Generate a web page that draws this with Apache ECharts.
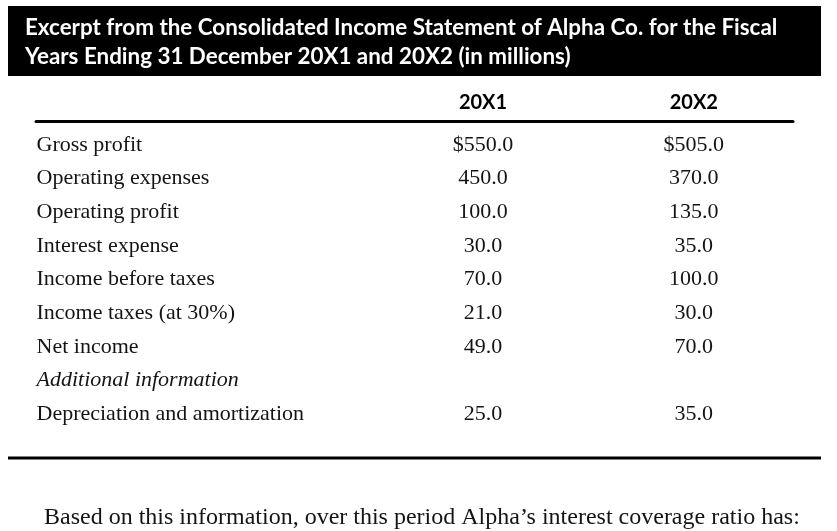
<!DOCTYPE html>
<html>
<head>
<meta charset="utf-8">
<script src="https://cdn.jsdelivr.net/npm/echarts@6/dist/echarts.min.js"></script>
<style>
  html, body { margin: 0; padding: 0; background: #fff; }
  #chart { width: 837px; height: 531px; }
</style>
</head>
<body>
<div id="chart"></div>
<script>
// table content
const headerTitle = 'Excerpt from the Consolidated Income Statement of Alpha Co. for the Fiscal\nYears Ending 31 December 20X1 and 20X2 (in millions)';
const columnHeaders = ['20X1', '20X2'];
const rowLabels = [
  'Gross profit',
  'Operating expenses',
  'Operating profit',
  'Interest expense',
  'Income before taxes',
  'Income taxes (at 30%)',
  'Net income',
  'Additional information',
  'Depreciation and amortization'
];
const values20X1 = [550.0, 450.0, 100.0, 30.0, 70.0, 21.0, 49.0, null, 25.0];
const values20X2 = [505.0, 370.0, 135.0, 35.0, 100.0, 30.0, 70.0, null, 35.0];
const italicRows = ['Additional information'];
const dollarRows = ['Gross profit'];
const question = 'Based on this information, over this period Alpha\u2019s interest coverage ratio has:';

// column positions on the hidden 0..100 x axis
const colX = [59.05, 86.9];

const serif = '"Liberation Serif", "DejaVu Serif", serif';
const sans = 'Lato, "Open Sans", sans-serif';
const ink = '#141414';

let chart = echarts.init(document.getElementById('chart'));

const labelData = rowLabels.map((name, i) => ({
  value: [0, i],
  label: { fontStyle: italicRows.indexOf(name) >= 0 ? 'italic' : 'normal' }
}));

function valueSeries(values, x) {
  let data = [];
  values.forEach((v, i) => {
    if (v === null) return;
    data.push({ value: [x, i, v], name: rowLabels[i] });
  });
  return {
    type: 'scatter',
    symbolSize: 1,
    itemStyle: { color: 'rgba(0,0,0,0)', opacity: 1 },
    data: data,
    label: {
      show: true,
      position: 'inside',
      color: ink,
      fontFamily: serif,
      fontSize: 22,
      formatter: (p) => (dollarRows.indexOf(p.name) >= 0 ? '$' : '') + p.value[2].toFixed(1)
    }
  };
}

chart.setOption({
  animation: false,
  backgroundColor: '#fff',
  title: [
    {
      text: headerTitle,
      left: 20,
      top: 8,
      textStyle: {
        color: '#fff',
        fontFamily: sans,
        fontWeight: 'bold',
        fontSize: 22.4,
        lineHeight: 29
      }
    },
    {
      text: question,
      left: 39,
      top: 501,
      textStyle: {
        color: ink,
        fontFamily: serif,
        fontWeight: 'normal',
        fontSize: 24
      }
    }
  ],
  graphic: [
    {
      type: 'rect',
      z: -1,
      shape: { x: 8, y: 6, width: 813, height: 70 },
      style: { fill: '#000' }
    },
    {
      type: 'line',
      shape: { x1: 8, y1: 458, x2: 821, y2: 458 },
      style: { stroke: '#000', lineWidth: 3 }
    }
  ],
  grid: { left: 36, right: 44, top: 121, bottom: 73 },
  xAxis: {
    type: 'value',
    position: 'top',
    min: 0,
    max: 100,
    axisLine: { show: true, onZero: false, lineStyle: { color: '#000', width: 3 } },
    axisTick: { show: false },
    splitLine: { show: false },
    axisLabel: {
      customValues: colX,
      margin: 8,
      color: '#000',
      fontFamily: sans,
      fontWeight: 'bold',
      fontSize: 20,
      formatter: (v) => columnHeaders[colX.indexOf(v)]
    }
  },
  yAxis: {
    type: 'value',
    inverse: true,
    min: -0.714,
    max: 9.31,
    axisLine: { show: false },
    axisTick: { show: false },
    axisLabel: { show: false },
    splitLine: { show: false }
  },
  series: [
    {
      type: 'scatter',
      symbolSize: 1,
      itemStyle: { color: 'rgba(0,0,0,0)', opacity: 1 },
      data: labelData,
      label: {
        show: true,
        position: 'right',
        distance: 0,
        color: ink,
        fontFamily: serif,
        fontSize: 22,
        formatter: (p) => rowLabels[p.value[1]]
      }
    },
    valueSeries(values20X1, colX[0]),
    valueSeries(values20X2, colX[1])
  ]
});
</script>
</body>
</html>
